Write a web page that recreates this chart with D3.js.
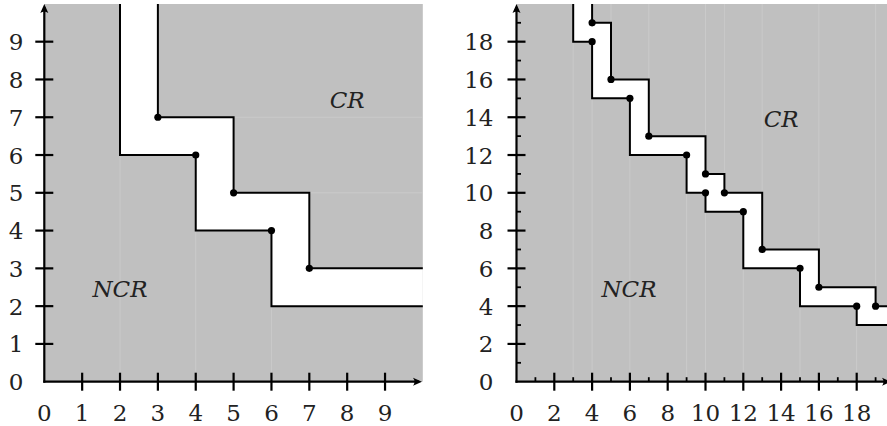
<!DOCTYPE html>
<html>
<head>
<meta charset="utf-8">
<script src="https://cdn.jsdelivr.net/npm/d3@7"></script>
<style>
html, body { margin: 0; padding: 0; background: #fff; overflow: hidden; }
svg { display: block; }
</style>
</head>
<body>
<div id="chart"></div>
<script>
// left panel: staircase corners (x of vertical step, y of following horizontal run)
const leftLowerX = [2, 4, 6];
const leftLowerY = [6, 4, 2];
const leftUpperX = [3, 5, 7];
const leftUpperY = [7, 5, 3];
const leftTicks = [0, 1, 2, 3, 4, 5, 6, 7, 8, 9];

// right panel
const rightLowerX = [3, 4, 6, 9, 10, 12, 15, 18];
const rightLowerY = [18, 15, 12, 10, 9, 6, 4, 3];
const rightUpperX = [4, 5, 7, 10, 11, 13, 16, 19];
const rightUpperY = [19, 16, 13, 11, 10, 7, 5, 4];
const rightTicks = [0, 2, 4, 6, 8, 10, 12, 14, 16, 18];
const rightMinor = [1, 3, 5, 7, 9, 11, 13, 15, 17, 19];

const W = 887, H = 426;
const svg = d3.select('#chart').append('svg').attr('width', W).attr('height', H);
const font = '"DejaVu Serif", "Liberation Serif", "Times New Roman", Times, "Noto Serif", serif';

function stair(xs, ys, xMax, yMax) {
  const pts = [[xs[0], yMax]];
  xs.forEach((x, i) => {
    pts.push([x, ys[i]]);
    pts.push([i + 1 < xs.length ? xs[i + 1] : xMax, ys[i]]);
  });
  return pts;
}

function panel(opt) {
  const x = d3.scaleLinear().domain([0, opt.xMax]).range(opt.xRange);
  const y = d3.scaleLinear().domain([0, opt.yMax]).range([381.7, 3.9]);
  const g = svg.append('g');
  const xEnd = Math.min(x(opt.xMax), W);

  const clipId = 'clip' + opt.id;
  svg.append('clipPath').attr('id', clipId).append('rect')
    .attr('x', x(0)).attr('y', y(opt.yMax)).attr('width', xEnd - x(0)).attr('height', y(0) - y(opt.yMax));
  const plot = g.append('g').attr('clip-path', `url(#${clipId})`);

  plot.append('rect')
    .attr('x', x(0)).attr('y', y(opt.yMax))
    .attr('width', x(opt.xMax) - x(0)).attr('height', y(0) - y(opt.yMax))
    .attr('fill', '#c0c0c0');

  // faint seams in the fill
  const seam = plot.append('g').attr('stroke', '#cecece').attr('stroke-width', 0.7);
  opt.lowerX.forEach((xv, i) => {
    seam.append('line').attr('x1', x(xv)).attr('x2', x(xv)).attr('y1', y(opt.lowerY[i])).attr('y2', y(0));
  });
  if (opt.upperSeamH) {
    opt.upperX.forEach((xv, i) => {
      seam.append('line').attr('x1', x(xv)).attr('x2', x(opt.xMax)).attr('y1', y(opt.upperY[i])).attr('y2', y(opt.upperY[i]));
    });
  } else {
    opt.upperX.forEach((xv, i) => {
      const top = i === 0 ? opt.yMax : opt.upperY[i - 1];
      seam.append('line').attr('x1', x(xv)).attr('x2', x(xv)).attr('y1', y(top)).attr('y2', y(opt.yMax));
    });
  }

  const lower = stair(opt.lowerX, opt.lowerY, opt.xMax, opt.yMax);
  const upper = stair(opt.upperX, opt.upperY, opt.xMax, opt.yMax);
  const line = d3.line().x(d => x(d[0])).y(d => y(d[1]));

  plot.append('path')
    .attr('d', line(upper.concat(lower.slice().reverse())) + 'Z')
    .attr('fill', '#fff');

  [lower, upper].forEach(p => {
    plot.append('path').attr('d', line(p)).attr('fill', 'none')
      .attr('stroke', '#000').attr('stroke-width', 2).attr('stroke-linejoin', 'miter');
  });

  const dots = opt.lowerX.slice(1).map((xv, i) => [xv, opt.lowerY[i]])
    .concat(opt.upperX.map((xv, i) => [xv, opt.upperY[i]]));
  plot.selectAll('circle.dot').data(dots).enter().append('circle')
    .attr('cx', d => x(d[0])).attr('cy', d => y(d[1])).attr('r', 3.6).attr('fill', '#000');

  // axes
  const ax = g.append('g').attr('stroke', '#000').attr('stroke-width', 2.2);
  ax.append('line').attr('x1', x(0) - 1).attr('x2', opt.arrowX - 3).attr('y1', y(0)).attr('y2', y(0));
  ax.append('line').attr('x1', x(0)).attr('x2', x(0)).attr('y1', y(0) + 1).attr('y2', y(opt.yMax) + 3);
  g.append('path')
    .attr('d', `M${opt.arrowX},${y(0)} l-9,-4 q3,4 0,8 z`).attr('fill', '#000');
  g.append('path')
    .attr('d', `M${x(0)},${y(opt.yMax)} l-4,9 q4,-3 8,0 z`).attr('fill', '#000');

  opt.ticks.filter(v => v > 0).forEach(v => {
    ax.append('line').attr('x1', x(v)).attr('x2', x(v)).attr('y1', y(0) - 9).attr('y2', y(0) + 9);
    ax.append('line').attr('x1', x(0) - 9).attr('x2', x(0) + 9).attr('y1', y(v)).attr('y2', y(v));
  });
  (opt.minor || []).forEach(v => {
    ax.append('line').attr('x1', x(v)).attr('x2', x(v)).attr('y1', y(0) - 4.5).attr('y2', y(0)).attr('stroke-width', 1.8);
    ax.append('line').attr('x1', x(0)).attr('x2', x(0) + 4.5).attr('y1', y(v)).attr('y2', y(v)).attr('stroke-width', 1.8);
  });

  g.selectAll('text.xl').data(opt.ticks).enter().append('text')
    .attr('x', d => x(d)).attr('y', 421).attr('text-anchor', 'middle')
    .attr('font-family', font).attr('font-size', 23).attr('fill', '#222').text(d => d);
  g.selectAll('text.yl').data(opt.ticks).enter().append('text')
    .attr('x', x(0) - opt.labelGap).attr('y', d => y(d) + 8.5).attr('text-anchor', 'end')
    .attr('font-family', font).attr('font-size', 23).attr('fill', '#222').text(d => d);

  opt.regions.forEach(r => {
    g.append('text').attr('x', x(r.x)).attr('y', y(r.y)).attr('text-anchor', 'middle')
      .attr('dy', '0.35em').attr('font-family', font).attr('font-style', 'italic')
      .attr('font-size', 23).attr('fill', '#222').text(r.label);
  });
}

panel({
  id: 'L', xMax: 10, yMax: 10, xRange: [44.3, 422.9], arrowX: 422,
  lowerX: leftLowerX, lowerY: leftLowerY, upperX: leftUpperX, upperY: leftUpperY,
  ticks: leftTicks, labelGap: 21, upperSeamH: true,
  regions: [{ label: 'NCR', x: 2.0, y: 2.45 }, { label: 'CR', x: 8.0, y: 7.45 }]
});

panel({
  id: 'R', xMax: 20, yMax: 20, xRange: [516.5, 894.5], arrowX: 891,
  lowerX: rightLowerX, lowerY: rightLowerY, upperX: rightUpperX, upperY: rightUpperY,
  ticks: rightTicks, minor: rightMinor, labelGap: 23, upperSeamH: false,
  regions: [{ label: 'NCR', x: 5.95, y: 4.9 }, { label: 'CR', x: 14.0, y: 13.9 }]
});
</script>
</body>
</html>
